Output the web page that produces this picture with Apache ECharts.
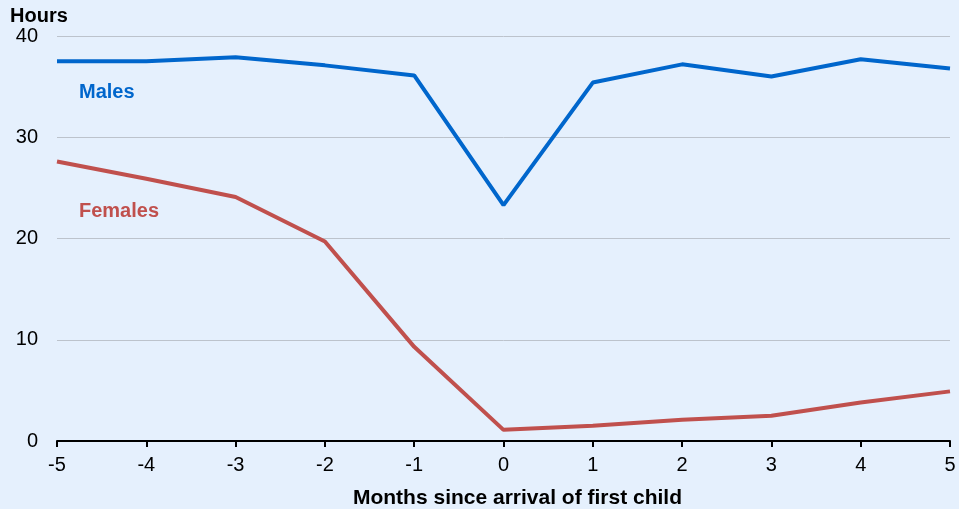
<!DOCTYPE html>
<html>
<head>
<meta charset="utf-8">
<script src="https://cdn.jsdelivr.net/npm/echarts@6/dist/echarts.min.js"></script>
<style>
  html, body { margin: 0; padding: 0; background: #e5f0fd; }
  #chart { width: 959px; height: 509px; }
</style>
</head>
<body>
<div id="chart"></div>
<script>
const months = [-5, -4, -3, -2, -1, 0, 1, 2, 3, 4, 5]
const males = [37.5, 37.5, 37.9, 37.1, 36.1, 23.3, 35.4, 37.2, 36.0, 37.7, 36.8]
const females = [27.6, 25.9, 24.1, 19.7, 9.3, 1.1, 1.5, 2.1, 2.5, 3.8, 4.9]

const font = 'Liberation Sans, Arial, sans-serif'
const chart = echarts.init(document.getElementById('chart'))

chart.setOption({
  backgroundColor: '#e5f0fd',
  animation: false,
  grid: { left: 57, right: 9, top: 36, bottom: 68, outerBoundsMode: 'none' },
  xAxis: {
    type: 'value',
    min: -5, max: 5, interval: 1,
    name: 'Months since arrival of first child',
    nameLocation: 'middle',
    nameGap: 47,
    nameTextStyle: { color: '#000', fontSize: 21, fontWeight: 'bold', fontFamily: font, padding: [0, 0, 0, 28] },
    axisLine: { lineStyle: { color: '#000', width: 2 } },
    axisTick: { show: true, length: 6, lineStyle: { color: '#000', width: 2 } },
    axisLabel: { color: '#000', fontSize: 20, fontFamily: font, margin: 14 },
    splitLine: { show: false }
  },
  yAxis: {
    type: 'value',
    min: 0, max: 40, interval: 10,
    axisLine: { show: false },
    axisTick: { show: false },
    axisLabel: { color: '#000', fontSize: 20, fontFamily: font, margin: 19 },
    splitLine: { lineStyle: { color: '#bcc3cc', width: 1 } }
  },
  graphic: [
    { type: 'text', left: 10, top: 6, style: { text: 'Hours', fill: '#000', font: 'bold 20px ' + font } },
    { type: 'text', left: 79, top: 82, style: { text: 'Males', fill: '#0066cc', font: 'bold 20px ' + font } },
    { type: 'text', left: 79, top: 201, style: { text: 'Females', fill: '#c0504d', font: 'bold 20px ' + font } }
  ],
  series: [
    {
      name: 'Males',
      type: 'line',
      data: months.map((m, i) => [m, males[i]]),
      symbol: 'none',
      lineStyle: { color: '#0066cc', width: 4 }
    },
    {
      name: 'Females',
      type: 'line',
      data: months.map((m, i) => [m, females[i]]),
      symbol: 'none',
      lineStyle: { color: '#c0504d', width: 4 }
    }
  ]
})
</script>
</body>
</html>
